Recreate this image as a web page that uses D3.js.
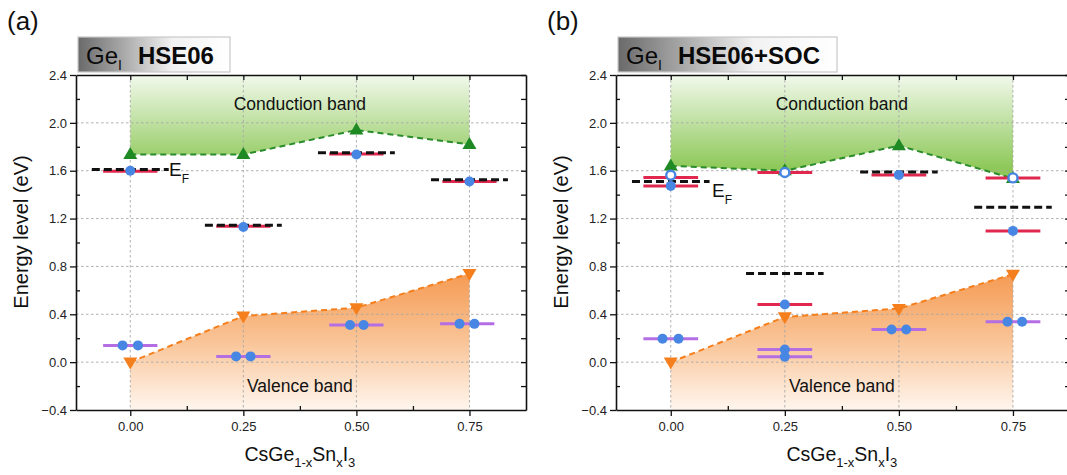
<!DOCTYPE html>
<html><head><meta charset="utf-8">
<script src="https://cdn.jsdelivr.net/npm/d3@7"></script>
<style>body{margin:0;background:#fff;} svg{display:block;font-family:"Liberation Sans",Arial,sans-serif;}</style>
</head><body><svg id="c" width="1067" height="475"></svg>
<script>
// ---------- data ----------
const compositions = [0, 0.25, 0.5, 0.75];
const xTickLabels = ["0.00", "0.25", "0.50", "0.75"];
const yTickValues = [-0.4, 0, 0.4, 0.8, 1.2, 1.6, 2.0, 2.4];

// Panel (a) HSE06
const cbA = [1.735, 1.735, 1.94, 1.82];      // conduction band minimum
const vbA = [0.0, 0.385, 0.455, 0.74];       // valence band maximum
const efA = [1.61, 1.145, 1.75, 1.525];      // Fermi level (black dashed)
const redXA = [0, 0.25, 0.5, 0.75];
const redYA = [1.595, 1.135, 1.74, 1.51];    // occupied defect levels (red)
const dotXA = [0, 0.25, 0.5, 0.75];
const dotYA = [1.60, 1.13, 1.735, 1.51];
const openXA = [];
const openYA = [];
const purpleXA = [0, 0.25, 0.5, 0.745];
const purpleYA = [0.14, 0.048, 0.31, 0.32];  // defect levels (purple)
const purpleDotXA = [-0.017, 0.017, 0.234, 0.266, 0.486, 0.516, 0.728, 0.761];
const purpleDotYA = [0.14, 0.14, 0.048, 0.048, 0.31, 0.31, 0.32, 0.32];

// Panel (b) HSE06+SOC
const cbB = [1.64, 1.60, 1.81, 1.535];
const vbB = [0.0, 0.378, 0.448, 0.735];
const efB = [1.51, 0.74, 1.59, 1.295];
const redXB = [0, 0, 0.25, 0.25, 0.5, 0.75, 0.75];
const redYB = [1.543, 1.473, 1.585, 0.482, 1.565, 1.54, 1.097];
const dotXB = [0, 0.25, 0.5, 0.75];
const dotYB = [1.473, 0.482, 1.565, 1.097];
const openXB = [0, 0.25, 0.75];
const openYB = [1.562, 1.585, 1.54];
const purpleXB = [0, 0.25, 0.25, 0.5, 0.75];
const purpleYB = [0.195, 0.106, 0.045, 0.273, 0.337];
const purpleDotXB = [-0.018, 0.017, 0.25, 0.25, 0.484, 0.516, 0.738, 0.77];
const purpleDotYB = [0.195, 0.195, 0.106, 0.045, 0.273, 0.273, 0.337, 0.337];

const xDomain = [-0.12, 0.875];
const yDomain = [-0.4, 2.4];

// ---------- drawing ----------
const svg = d3.select("#c");
const defs = svg.append("defs");

const COL = {
  green: "#1f8a24", greenLine: "#2b8c2b", orange: "#f47f1c",
  red: "#e0284f", purple: "#b46ee4", blue: "#4886e4", grid: "#a8a8a8"
};

function gradient(id, x1, y1, x2, y2, stops, units) {
  const g = defs.append("linearGradient").attr("id", id)
    .attr("x1", x1).attr("y1", y1).attr("x2", x2).attr("y2", y2);
  if (units) g.attr("gradientUnits", units);
  stops.forEach(s => g.append("stop").attr("offset", s[0]).attr("stop-color", s[1]));
}

function drawPanel(p) {
  const x = d3.scaleLinear().domain(xDomain).range([p.left, p.right]);
  const y = d3.scaleLinear().domain(yDomain).range([410, 75]);
  const g = svg.append("g");

  gradient("cbg" + p.id, 0, y(2.4), 0, y(1.62),
    [[0, "#f2f9ec"], [1, "#8dc858"]], "userSpaceOnUse");
  gradient("vbg" + p.id, 0, y(0.75), 0, y(-0.4),
    [[0, "#f59a52"], [0.5, "#f9c497"], [1, "#fff6ee"]], "userSpaceOnUse");

  const cbPts = compositions.map((c, i) => ({x: c, y: p.cb[i]}));
  const vbPts = compositions.map((c, i) => ({x: c, y: p.vb[i]}));

  g.append("path").datum(cbPts)
    .attr("d", d3.area().x(d => x(d.x)).y0(y(2.4)).y1(d => y(d.y)))
    .attr("fill", `url(#cbg${p.id})`);
  g.append("path").datum(vbPts)
    .attr("d", d3.area().x(d => x(d.x)).y0(y(-0.4)).y1(d => y(d.y)))
    .attr("fill", `url(#vbg${p.id})`);

  // grid
  g.selectAll(".vg").data(compositions).join("line")
    .attr("x1", d => x(d)).attr("x2", d => x(d)).attr("y1", y(2.4)).attr("y2", y(-0.4))
    .attr("stroke", COL.grid).attr("stroke-width", 0.9).attr("stroke-dasharray", "2.5,2.5");
  g.selectAll(".hg").data(yTickValues.filter(v => v > -0.4 && v < 2.4)).join("line")
    .attr("x1", x(xDomain[0])).attr("x2", x(xDomain[1])).attr("y1", d => y(d)).attr("y2", d => y(d))
    .attr("stroke", COL.grid).attr("stroke-width", 0.9).attr("stroke-dasharray", "2.5,2.5");

  // band edge dashed lines
  g.append("path").datum(cbPts).attr("d", d3.line().x(d => x(d.x)).y(d => y(d.y)))
    .attr("fill", "none").attr("stroke", COL.greenLine).attr("stroke-width", 2).attr("stroke-dasharray", "6,4");
  g.append("path").datum(vbPts).attr("d", d3.line().x(d => x(d.x)).y(d => y(d.y)))
    .attr("fill", "none").attr("stroke", COL.orange).attr("stroke-width", 2).attr("stroke-dasharray", "6,4");

  // triangles
  const tw = 7, th = 12;
  g.selectAll(".tu").data(cbPts).join("path")
    .attr("d", d => `M${x(d.x)},${y(d.y) - th * 0.62}L${x(d.x) + tw},${y(d.y) + th * 0.38}L${x(d.x) - tw},${y(d.y) + th * 0.38}Z`)
    .attr("fill", COL.green);
  g.selectAll(".td").data(vbPts).join("path")
    .attr("d", d => `M${x(d.x)},${y(d.y) + th * 0.62}L${x(d.x) + tw},${y(d.y) - th * 0.38}L${x(d.x) - tw},${y(d.y) - th * 0.38}Z`)
    .attr("fill", COL.orange);

  // defect level lines
  const hw = 0.06;
  g.selectAll(".pl").data(p.purpleX.map((v, i) => [v, p.purpleY[i]])).join("line")
    .attr("x1", d => x(d[0] - hw)).attr("x2", d => x(d[0] + hw)).attr("y1", d => y(d[1])).attr("y2", d => y(d[1]))
    .attr("stroke", COL.purple).attr("stroke-width", 3);
  g.selectAll(".rl").data(p.redX.map((v, i) => [v, p.redY[i]])).join("line")
    .attr("x1", d => x(d[0] - hw)).attr("x2", d => x(d[0] + hw)).attr("y1", d => y(d[1])).attr("y2", d => y(d[1]))
    .attr("stroke", COL.red).attr("stroke-width", 3);
  // Fermi levels
  const fw = 0.085;
  g.selectAll(".ef").data(compositions.map((c, i) => [c, p.ef[i]])).join("line")
    .attr("x1", d => x(d[0] - fw)).attr("x2", d => x(d[0] + fw)).attr("y1", d => y(d[1])).attr("y2", d => y(d[1]))
    .attr("stroke", "#111").attr("stroke-width", 3).attr("stroke-dasharray", "8,4");

  // dots
  g.selectAll(".pd").data(p.pdX.map((v, i) => [v, p.pdY[i]])).join("circle")
    .attr("cx", d => x(d[0])).attr("cy", d => y(d[1])).attr("r", 5).attr("fill", COL.blue);
  g.selectAll(".fd").data(p.dotX.map((v, i) => [v, p.dotY[i]])).join("circle")
    .attr("cx", d => x(d[0])).attr("cy", d => y(d[1])).attr("r", 5).attr("fill", COL.blue);
  g.selectAll(".od").data(p.openX.map((v, i) => [v, p.openY[i]])).join("circle")
    .attr("cx", d => x(d[0])).attr("cy", d => y(d[1])).attr("r", 4.5).attr("fill", "#fff")
    .attr("stroke", COL.blue).attr("stroke-width", 2.4);

  // axes
  const left = g.append("g").attr("transform", `translate(${x(xDomain[0])},0)`)
    .call(d3.axisLeft(y).tickValues(yTickValues).tickFormat(d3.format(".1f")).tickSizeInner(6).tickSizeOuter(0).tickPadding(3));
  left.append("g").call(d3.axisRight(y).tickValues(d3.range(-0.2, 2.4, 0.4)).tickSize(4).tickFormat("")).select(".domain").remove();
  const bottom = g.append("g").attr("transform", `translate(0,${y(-0.4)})`)
    .call(d3.axisBottom(x).tickValues(compositions).tickFormat((d, i) => xTickLabels[i]).tickSizeInner(6).tickSizeOuter(0).tickPadding(6));
  bottom.append("g").call(d3.axisTop(x).tickValues([0.125, 0.375, 0.625]).tickSize(4).tickFormat("")).select(".domain").remove();
  g.append("g").attr("transform", `translate(0,${y(2.4)})`)
    .call(d3.axisBottom(x).tickValues([0, 0.125, 0.25, 0.375, 0.5, 0.625, 0.75]).tickSizeInner(5).tickSizeOuter(0).tickFormat(""));
  g.append("g").attr("transform", `translate(${x(xDomain[1])},0)`)
    .call(d3.axisLeft(y).tickValues(d3.range(-0.2, 2.41, 0.2)).tickSizeInner(5).tickSizeOuter(0).tickFormat(""));
  g.selectAll(".domain").attr("stroke", "#111").attr("stroke-width", 1.6);
  g.selectAll(".tick line").attr("stroke", "#111").attr("stroke-width", 1.3);
  g.selectAll(".tick text").attr("font-size", 13).attr("fill", "#222")
    .attr("font-family", "'Liberation Sans', Arial, sans-serif");

  // band labels
  g.append("text").attr("x", x(0.375)).attr("y", 110).attr("text-anchor", "middle")
    .attr("font-size", 17.5).attr("fill", "#111").text("Conduction band");
  g.append("text").attr("x", x(0.375)).attr("y", 392).attr("text-anchor", "middle")
    .attr("font-size", 17.5).attr("fill", "#111").text("Valence band");

  // E_F label
  const ef = g.append("text").attr("x", p.efLabel[0]).attr("y", p.efLabel[1]).attr("font-size", 19).attr("fill", "#111");
  ef.append("tspan").text("E");
  ef.append("tspan").attr("dy", 7).attr("font-size", 12).text("F");

  // axis titles
  svg.append("text").attr("transform", `translate(${p.yTitleX},232) rotate(-90)`)
    .attr("text-anchor", "middle").attr("font-size", 20).attr("fill", "#111").text("Energy level (eV)");
  const xt = svg.append("text").attr("x", x(0.375)).attr("y", 461).attr("text-anchor", "middle")
    .attr("font-size", 19.5).attr("fill", "#111");
  xt.append("tspan").text("CsGe");
  xt.append("tspan").attr("dy", 6).attr("font-size", 13).text("1-x");
  xt.append("tspan").attr("dy", -6).text("Sn");
  xt.append("tspan").attr("dy", 6).attr("font-size", 13).text("x");
  xt.append("tspan").attr("dy", -6).text("I");
  xt.append("tspan").attr("dy", 6).attr("font-size", 13).text("3");

  // panel letter
  svg.append("text").attr("x", p.letterX).attr("y", 30).attr("font-size", 26).attr("fill", "#111").text(p.letter);

  // header box
  gradient("hb" + p.id, 0, 0, 1, 0, [[0, "#6a6a6a"], [0.3, "#a9a9a9"], [0.62, "#f2f2f2"], [1, "#ffffff"]]);
  svg.append("rect").attr("x", p.box[0]).attr("y", 37).attr("width", p.box[1]).attr("height", 35)
    .attr("fill", `url(#hb${p.id})`).attr("stroke", "#c8c8c8").attr("stroke-width", 1.2);
  const ht = svg.append("text").attr("x", p.box[0] + 8).attr("y", 64).attr("font-size", 24).attr("fill", "#0a0a0a");
  ht.append("tspan").text("Ge");
  ht.append("tspan").attr("dy", 6).attr("font-size", 14).text("I");
  ht.append("tspan").attr("dy", -6).attr("dx", 16).attr("font-weight", "bold").text(p.method);
}

drawPanel({
  id: "a", letter: "(a)", letterX: 7, method: "HSE06", box: [78, 152],
  left: 76, right: 526, yTitleX: 28, efLabel: [169, 176],
  cb: cbA, vb: vbA, ef: efA, redX: redXA, redY: redYA, dotX: dotXA, dotY: dotYA,
  openX: openXA, openY: openYA, purpleX: purpleXA, purpleY: purpleYA, pdX: purpleDotXA, pdY: purpleDotYA
});
drawPanel({
  id: "b", letter: "(b)", letterX: 547, method: "HSE06+SOC", box: [618, 219],
  left: 616, right: 1070, yTitleX: 568, efLabel: [712, 197],
  cb: cbB, vb: vbB, ef: efB, redX: redXB, redY: redYB, dotX: dotXB, dotY: dotYB,
  openX: openXB, openY: openYB, purpleX: purpleXB, purpleY: purpleYB, pdX: purpleDotXB, pdY: purpleDotYB
});
</script></body></html>
